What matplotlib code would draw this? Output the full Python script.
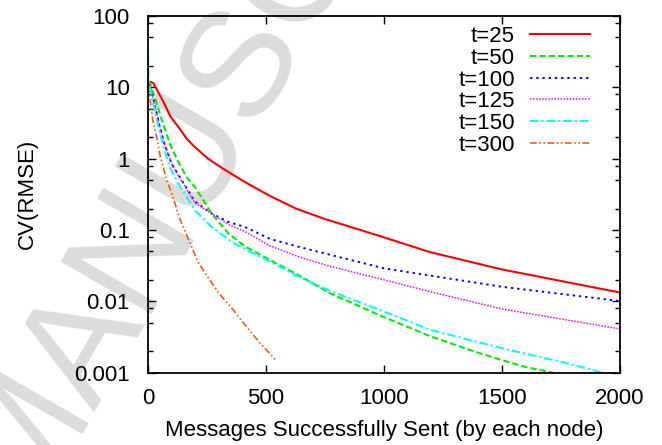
import matplotlib.pyplot as plt
from matplotlib.ticker import LogLocator, FixedLocator, NullFormatter

plt.rcParams['font.family'] = ['Liberation Sans', 'DejaVu Sans']

# --- data ---
x_t25 = [0, 8, 22, 65, 95, 128, 164, 199, 255, 319, 411, 517, 627, 743, 969, 1195, 1500, 2000]
y_t25 = [10, 12, 11.5, 6.3, 3.9, 2.8, 1.9, 1.45, 1.0, 0.72, 0.47, 0.30, 0.2, 0.145, 0.085, 0.049, 0.028, 0.0133]

x_t50 = [0, 8, 30, 55, 93, 125, 164, 199, 270, 340, 411, 517, 640, 771, 1000, 1200, 1400, 1500, 1600, 1716]
y_t50 = [12, 11.5, 7.0, 3.8, 1.6, 0.95, 0.55, 0.40, 0.17, 0.09, 0.059, 0.038, 0.023, 0.013, 0.006, 0.0032, 0.0019, 0.0015, 0.0012, 0.001]

x_t100 = [0, 5, 22, 50, 70, 100, 128, 199, 270, 340, 411, 517, 640, 771, 1000, 1195, 1500, 2000]
y_t100 = [12, 11, 7, 2.8, 1.6, 0.85, 0.6, 0.25, 0.17, 0.13, 0.11, 0.075, 0.058, 0.045, 0.029, 0.023, 0.016, 0.0101]

x_t125 = [0, 5, 22, 50, 70, 100, 128, 199, 270, 340, 411, 517, 640, 771, 1000, 1195, 1500, 2000]
y_t125 = [12, 11, 7, 2.8, 1.6, 0.85, 0.58, 0.24, 0.17, 0.12, 0.095, 0.060, 0.042, 0.031, 0.020, 0.0137, 0.0078, 0.0041]

x_t150 = [0, 2, 5, 22, 44, 65, 93, 128, 199, 270, 355, 420, 517, 640, 771, 1000, 1195, 1500, 1760, 1926]
y_t150 = [30, 14, 11, 6, 2.8, 1.5, 0.75, 0.45, 0.19, 0.11, 0.068, 0.052, 0.036, 0.022, 0.014, 0.0072, 0.0040, 0.0022, 0.0014, 0.001]

x_t300 = [0, 8, 20, 37, 51, 65, 79, 100, 136, 213, 249, 300, 361, 420, 475, 542]
y_t300 = [12, 7, 3.5, 2.0, 1.1, 0.75, 0.5, 0.33, 0.14, 0.035, 0.023, 0.013, 0.0076, 0.0043, 0.0026, 0.0015]

labels = ['t=25', 't=50', 't=100', 't=125', 't=150', 't=300']

fig = plt.figure(figsize=(6.62, 4.45), dpi=100)

# watermark behind the plot
wm = dict(fontsize=110, color='#dcdcdc', rotation=60, rotation_mode='anchor', zorder=-5)
fig.text(0.038, -0.149, 'MANUSCRIPT', ha='left', va='baseline', **wm)
fig.text(0.038, -0.149, 'ACCEPTED ', ha='right', va='baseline', **wm)

ax = fig.add_axes([0.2236, 0.1625, 0.713, 0.8015])
ax.patch.set_alpha(0)

ax.plot(x_t25, y_t25, color='#ff0000', lw=1.5, label=labels[0])
ax.plot(x_t50, y_t50, color='#00ee00', lw=1.5, ls=(0, (3, 1.5)), label=labels[1])
ax.plot(x_t100, y_t100, color='#0000ff', lw=1.4, ls=(0, (1.2, 2)), label=labels[2])
ax.plot(x_t125, y_t125, color='#ff00ff', lw=1.1, ls=(0, (1, 1)), label=labels[3])
ax.plot(x_t150, y_t150, color='#00ffff', lw=1.5, ls=(0, (4, 1.5, 1, 1.5)), label=labels[4])
ax.plot(x_t300, y_t300, color='#ff5a00', lw=1.2, ls=(0, (4, 1.5, 1, 1.5, 1, 1.5)), label=labels[5])

ax.set_yscale('log')
ax.set_xlim(0, 2000)
ax.set_ylim(0.001, 100)
ax.xaxis.set_major_locator(FixedLocator([0, 500, 1000, 1500, 2000]))
ax.yaxis.set_minor_locator(LogLocator(base=10, subs=[2, 5, 8], numticks=10))
ax.yaxis.set_minor_formatter(NullFormatter())
ax.set_yticks([0.001, 0.01, 0.1, 1, 10, 100])
ax.set_yticklabels(['0.001', '0.01', '0.1', '1', '10', '100'])

ax.tick_params(which='both', direction='in', top=True, right=True, labelsize=16)
ax.tick_params(which='major', length=6, width=1)
ax.tick_params(which='minor', length=3.5, width=1)
ax.tick_params(axis='x', pad=11)
ax.tick_params(axis='y', pad=13)
for s in ax.spines.values():
    s.set_linewidth(1.3)

ax.set_xlabel('Messages Successfully Sent (by each node)', fontsize=16, labelpad=8)
ax.set_ylabel('CV(RMSE)', fontsize=16, labelpad=26)

leg = ax.legend(loc='upper right', bbox_to_anchor=(0.908, 0.966), bbox_transform=fig.transFigure,
                frameon=False, markerfirst=False, fontsize=16, handlelength=2.7,
                handletextpad=0.68, labelspacing=0.03, borderpad=0)

fig.savefig('out.png', dpi=100)
